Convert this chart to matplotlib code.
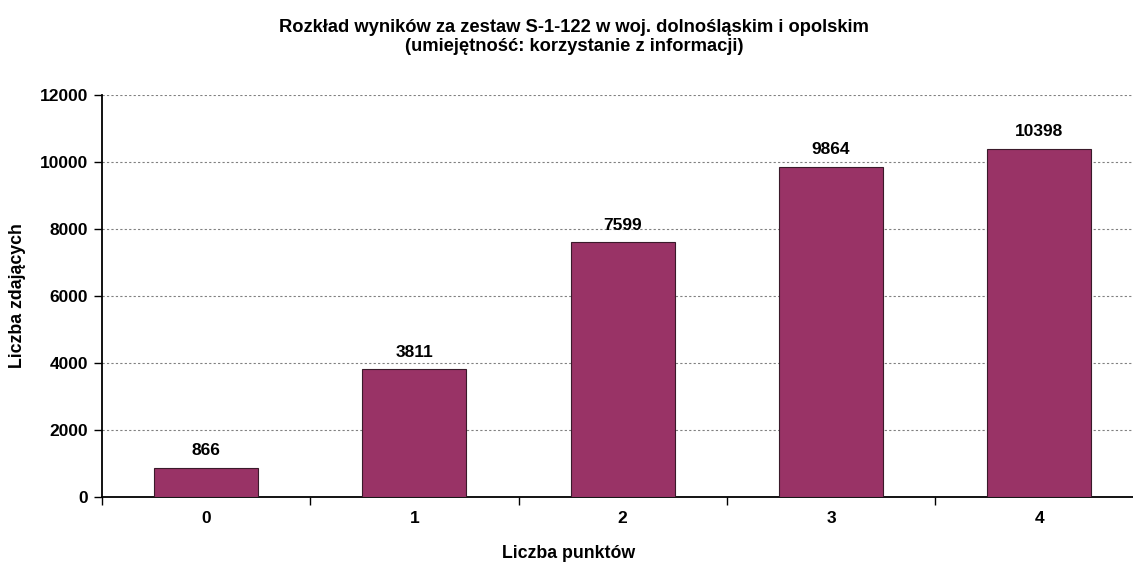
import matplotlib
matplotlib.use("Agg")
import matplotlib.pyplot as plt
import numpy as np

plt.rcParams['font.family'] = ['Liberation Sans', 'DejaVu Sans']

categories = ["0", "1", "2", "3", "4"]
counts = [866, 3811, 7599, 9864, 10398]
y_ticks = [0, 2000, 4000, 6000, 8000, 10000, 12000]

title = "Rozkład wyników za zestaw S-1-122 w woj. dolnośląskim i opolskim\n(umiejętność: korzystanie z informacji)"
xlabel = "Liczba punktów"
ylabel = "Liczba zdających"

fig = plt.figure(figsize=(11.33, 5.64), dpi=100)
ax = fig.add_axes([0.0900, 0.1188, 0.9192, 0.7128])

x = np.arange(len(categories))
ax.bar(x, counts, width=0.5, color="#993366", edgecolor="#3a1a2a", linewidth=0.8, zorder=3)

for xi, v in zip(x, counts):
    ax.annotate(f"{v}", (xi, v), xytext=(0, 7), textcoords="offset points",
                ha="center", va="bottom", fontsize=12.5, fontweight="bold")

ax.set_xlim(-0.5, len(categories) - 0.5)
ax.set_ylim(0, 12000)
ax.set_yticks(y_ticks)
ax.set_yticklabels([str(t) for t in y_ticks], fontsize=12.5, fontweight="bold")
ax.set_xticks(x)
ax.set_xticklabels(categories, fontsize=12.5, fontweight="bold")
ax.tick_params(axis="x", length=0, pad=10)
ax.set_xticks(np.arange(len(categories) + 1) - 0.5, minor=True)
ax.tick_params(axis="x", which="minor", length=6, width=1, direction="out")
ax.tick_params(axis="y", length=6, width=1, direction="out", pad=4)

for yv in y_ticks[1:]:
    ax.axhline(yv, color="#808080", linestyle=(0, (2, 2)), linewidth=0.8, zorder=1)

for s in ["top", "right"]:
    ax.spines[s].set_visible(False)
ax.spines["left"].set_linewidth(1.3)
ax.spines["bottom"].set_linewidth(1.3)

fig.text(18 / 1133, 1 - 296 / 564, ylabel, ha="center", va="center",
         rotation=90, fontsize=12.8, fontweight="bold")
fig.text(569 / 1133, 1 - 553 / 564, xlabel, ha="center", va="center",
         fontsize=12.8, fontweight="bold")

fig.text(0.507, 1 - 37 / 564, title, ha="center", va="center", fontsize=13.2,
         fontweight="bold", linespacing=1.15)

fig.savefig("out.png", dpi=100)
